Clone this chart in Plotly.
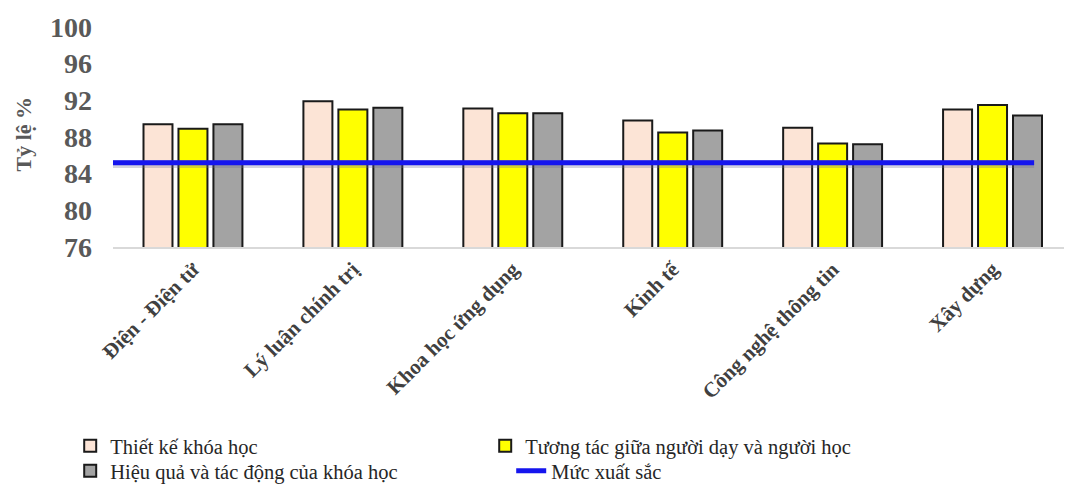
import plotly.graph_objects as go

# Khoa / ngành được khảo sát
categories = ["Điện - Điện tử", "Lý luận chính trị", "Khoa học ứng dụng",
              "Kinh tế", "Công nghệ thông tin", "Xây dựng"]

# Tỷ lệ (%) theo từng tiêu chí
thiet_ke = [89.4, 91.9, 91.1, 89.8, 89.0, 91.0]
tuong_tac = [88.9, 91.0, 90.6, 88.5, 87.3, 91.5]
hieu_qua = [89.4, 91.2, 90.6, 88.7, 87.2, 90.35]

# Ngưỡng mức xuất sắc
muc_xuat_sac = 85.2

y_ticks = [76, 80, 84, 88, 92, 96, 100]

W, H = 1066, 491
L, R, T, B = 112.5, 2, 27, 244

serif = "Liberation Serif, Times New Roman, serif"
edge = dict(color="#1a1a1a", width=2)
pos = list(range(len(categories)))

fig = go.Figure()
fig.add_trace(go.Bar(name="Thiết kế khóa học", x=pos, y=thiet_ke, legend="legend",
                     marker=dict(color="#fce4d6", line=edge)))
fig.add_trace(go.Bar(name="Tương tác giữa người dạy và người học", x=pos, y=tuong_tac,
                     legend="legend", marker=dict(color="#ffff00", line=edge)))
fig.add_trace(go.Bar(name="Hiệu quả và tác động của khóa học", x=pos, y=hieu_qua,
                     legend="legend2", marker=dict(color="#a3a3a3", line=edge)))

# Đường ngưỡng kéo ngang qua các nhóm cột
x_lo, x_hi = pos[0] - 0.535, pos[-1] + 0.26
fig.add_trace(go.Scatter(x=[x_lo, x_hi], y=[muc_xuat_sac - 0.15] * 2, mode="lines",
                         line=dict(color="rgba(110,110,150,0.3)", width=8),
                         hoverinfo="skip", showlegend=False))
fig.add_trace(go.Scatter(name="Mức xuất sắc", x=[x_lo, x_hi], y=[muc_xuat_sac] * 2,
                         legend="legend2", mode="lines",
                         line=dict(color="#1515ee", width=5)))

plot_w = W - L - R
plot_h = H - T - B
legend_font = dict(family=serif, size=20.5, color="#262626")


def legend_row(y_px, entry_w):
    # one horizontal legend row whose items are centred at y_px
    return dict(orientation="h", x=-0.045, y=(H - B - y_px) / plot_h,
                xanchor="left", yanchor="middle",
                entrywidth=entry_w, entrywidthmode="pixels", traceorder="normal",
                font=legend_font, itemsizing="constant", tracegroupgap=0,
                bgcolor="rgba(0,0,0,0)")


fig.update_layout(
    width=W, height=H,
    margin=dict(l=L, r=R, t=T, b=B, autoexpand=False),
    paper_bgcolor="white", plot_bgcolor="white",
    barmode="group", bargap=0.344, bargroupgap=0.171,
    font=dict(family=serif),
    showlegend=True,
    legend=legend_row(446, 370),
    legend2=legend_row(471, 396),
    xaxis=dict(range=[-0.5, -0.5 + plot_w / 160.0],
               tickvals=pos, ticktext=categories,
               tickangle=-45, showgrid=False, ticks="", zeroline=False,
               showline=True, linecolor="#d9d9d9", linewidth=1.5,
               tickfont=dict(family=serif, size=21, color="#404040", weight="bold")),
    yaxis=dict(range=[76, 100], tickvals=y_ticks, showgrid=False, zeroline=False,
               showline=False, ticks="", ticklabelstandoff=20,
               tickfont=dict(family=serif, size=28, color="#595959", weight="bold")),
    annotations=[dict(text="Tỷ lệ %", xref="paper", yref="paper",
                      x=(22 - L) / plot_w, y=(H - B - 134) / plot_h,
                      xanchor="center", yanchor="middle", textangle=-90,
                      showarrow=False,
                      font=dict(family=serif, size=22, color="#595959", weight="bold"))],
)

fig.write_html("out.html")
